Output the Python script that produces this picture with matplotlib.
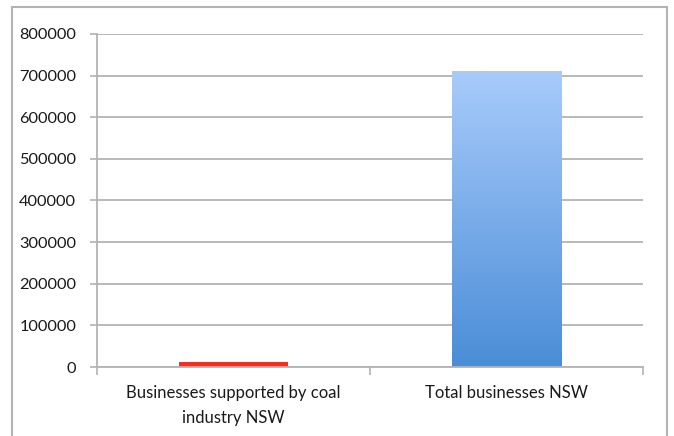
import numpy as np
import matplotlib.pyplot as plt
from matplotlib.patches import Rectangle
from matplotlib.colors import LinearSegmentedColormap

# Data
categories = ['Businesses supported by coal\nindustry NSW', 'Total businesses NSW']
businesses = [11000, 710000]
bar_colors = ['#FF2A1A', '#7FB0EE']
yticks = np.arange(0, 800001, 100000)

plt.rcParams['font.family'] = ['Lato', 'DejaVu Sans']
grey = '#B3B3B3'

fig = plt.figure(figsize=(6.74, 4.36), dpi=100)
ax = fig.add_axes([97 / 674, 1 - 367 / 436, (643 - 97) / 674, (367 - 34) / 436])

x = np.arange(len(categories))
bars = ax.bar(x, businesses, width=0.4, color=bar_colors, zorder=3)

# vertical gradient on the total bar
blue = LinearSegmentedColormap.from_list('blue', ['#4A8DD7', '#A8CBFB'])
b = bars[1]
grad = np.linspace(0, 1, 256).reshape(-1, 1)
im = ax.imshow(grad, cmap=blue, origin='lower', aspect='auto', zorder=4,
               extent=[b.get_x(), b.get_x() + b.get_width(), 0, b.get_height()])
im.set_clip_path(b)

ax.set_xlim(-0.5, 1.5)
ax.set_ylim(0, 800000)
ax.set_yticks(yticks)
ax.set_yticklabels([str(v) for v in yticks], fontsize=11.8, color='#1A1A1A')
ax.set_xticks([-0.5, 0.5, 1.5], minor=False)
ax.set_xticklabels([])
ax.set_xticks(x, minor=True)
ax.set_xticklabels(categories, minor=True, fontsize=12, color='#1A1A1A',
                   linespacing=1.65)
ax.tick_params(axis='x', which='minor', length=0, pad=13)
ax.tick_params(axis='x', which='major', length=6, color=grey, width=1.2)
ax.tick_params(axis='y', length=5, color=grey, width=1.2, pad=10)

ax.grid(axis='y', color=grey, linewidth=1.3, zorder=0)
for side in ['top', 'right']:
    ax.spines[side].set_visible(False)
for side in ['left', 'bottom']:
    ax.spines[side].set_color(grey)
    ax.spines[side].set_linewidth(1.3)
    ax.spines[side].set_zorder(5)

# chart border
fig.patches.append(Rectangle((12 / 674, -0.05), (667 - 12) / 674, 1.05 - 7 / 436,
                             transform=fig.transFigure, fill=False,
                             edgecolor=grey, linewidth=1.5))

fig.savefig('out.png', dpi=100)
